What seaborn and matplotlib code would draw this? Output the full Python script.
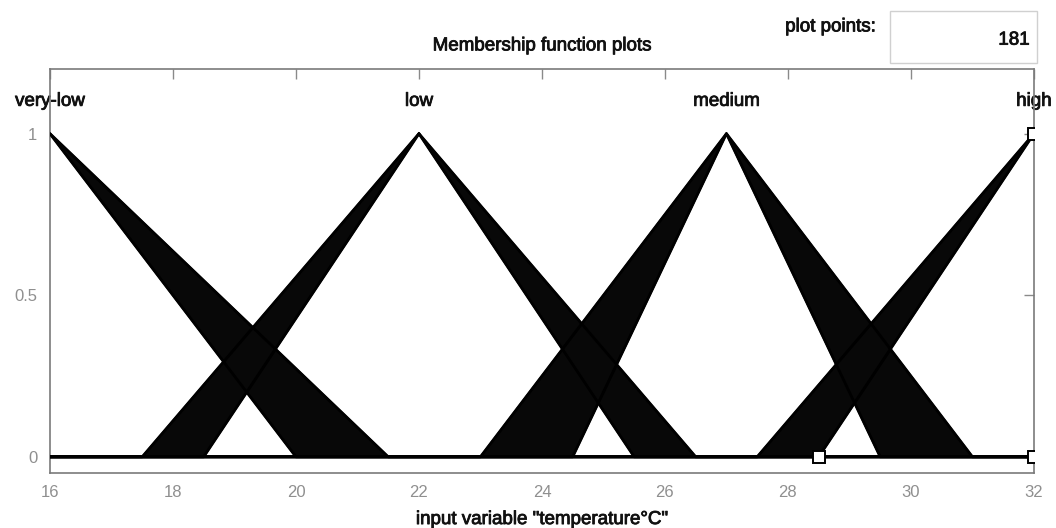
import matplotlib
matplotlib.use("Agg")
import matplotlib.pyplot as plt
import matplotlib.patheffects as pe
import seaborn as sns
import pandas as pd
from matplotlib.patches import Rectangle

# membership function names and their peak positions
mf_names = ["very-low", "low", "medium", "high"]
mf_peaks = [16, 22, 27, 32]

# upper membership functions (x vertices, y vertices)
upper_x = [[16, 21.5, 32], [16, 17.5, 22, 26.5, 32], [16, 23, 27, 31, 32], [16, 27.5, 32]]
upper_y = [[1, 0, 0], [0, 0, 1, 0, 0], [0, 0, 1, 0, 0], [0, 0, 1]]

# lower membership functions
lower_x = [[16, 20, 32], [16, 18.5, 22, 25.5, 32], [16, 24.5, 27, 29.5, 32], [16, 28.5, 32]]
lower_y = [[1, 0, 0], [0, 0, 1, 0, 0], [0, 0, 1, 0, 0], [0, 0, 1]]

# handles of the selected mf (high)
handle_x = [28.5, 32, 32]
handle_y = [0, 0, 1]

x_ticks = [16, 18, 20, 22, 24, 26, 28, 30, 32]
y_ticks = [0, 0.5, 1]
y_tick_labels = ["0", "0.5", "1"]
plot_points = 181

sns.set_style("white")
plt.rcParams["font.family"] = ["Liberation Sans", "DejaVu Sans"]

# semi-bold look for the black texts
semi = [pe.withStroke(linewidth=0.6, foreground="#111111")]

fig = plt.figure(figsize=(10.56, 5.28), dpi=100)
ax = fig.add_axes([0.0473, 0.1042, 0.9318, 0.7651])

# fill the footprint of uncertainty between upper and lower mf
for ux, uy, lx, ly in zip(upper_x, upper_y, lower_x, lower_y):
    px = list(ux) + list(lx[::-1])
    py = list(uy) + list(ly[::-1])
    ax.fill(px, py, color="#080808", edgecolor="#000000", linewidth=1.5, zorder=2)

# upper and lower mf lines
for i in range(len(mf_names)):
    df_u = pd.DataFrame({"x": upper_x[i], "y": upper_y[i]})
    df_l = pd.DataFrame({"x": lower_x[i], "y": lower_y[i]})
    sns.lineplot(data=df_u, x="x", y="y", ax=ax, color="black", linewidth=2,
                 sort=False, estimator=None, zorder=3)
    sns.lineplot(data=df_l, x="x", y="y", ax=ax, color="black", linewidth=2,
                 sort=False, estimator=None, zorder=3)

ax.plot(handle_x, handle_y, linestyle="none", marker="s", markersize=8,
        markerfacecolor="white", markeredgecolor="black", markeredgewidth=1.4, zorder=4)

# names above the peaks
for name, peak in zip(mf_names, mf_peaks):
    ax.text(peak, 1.1, name, ha="center", va="center", fontsize=13.5,
            color="#111111", clip_on=False, zorder=1, path_effects=semi)

ax.set_xlim(16, 32)
ax.set_ylim(-0.05, 1.2)
ax.set_xticks(x_ticks)
ax.set_xticklabels([str(t) for t in x_ticks])
ax.set_yticks(y_ticks)
ax.set_yticklabels(y_tick_labels)
ax.set_xlabel("")
ax.set_ylabel("")
ax.tick_params(axis="both", which="both", direction="in", colors="#8a8a8a",
               labelsize=12, labelcolor="#8f8f8f", top=True, right=True,
               length=7, width=1, pad=9)
for s in ax.spines.values():
    s.set_color("#7a7a7a")
    s.set_linewidth(1.2)

# title, plot points box, axis label
fig.text(0.513, 0.913, "Membership function plots", ha="center", va="center",
         fontsize=13.5, color="#111111", path_effects=semi)
fig.text(0.829, 0.949, "plot points:", ha="right", va="center",
         fontsize=13.5, color="#111111", path_effects=semi)
fig.patches.append(Rectangle((0.843, 0.881), 0.139, 0.098, transform=fig.transFigure,
                             facecolor="white", edgecolor="#d0d0d0", linewidth=1))
fig.text(0.975, 0.924, str(plot_points), ha="right", va="center",
         fontsize=13.5, color="#111111", path_effects=semi)
fig.text(0.513, 0.016, 'input variable "temperature°C"', ha="center", va="center",
         fontsize=13.5, color="#111111", path_effects=semi)

fig.savefig("out.png", dpi=100)
